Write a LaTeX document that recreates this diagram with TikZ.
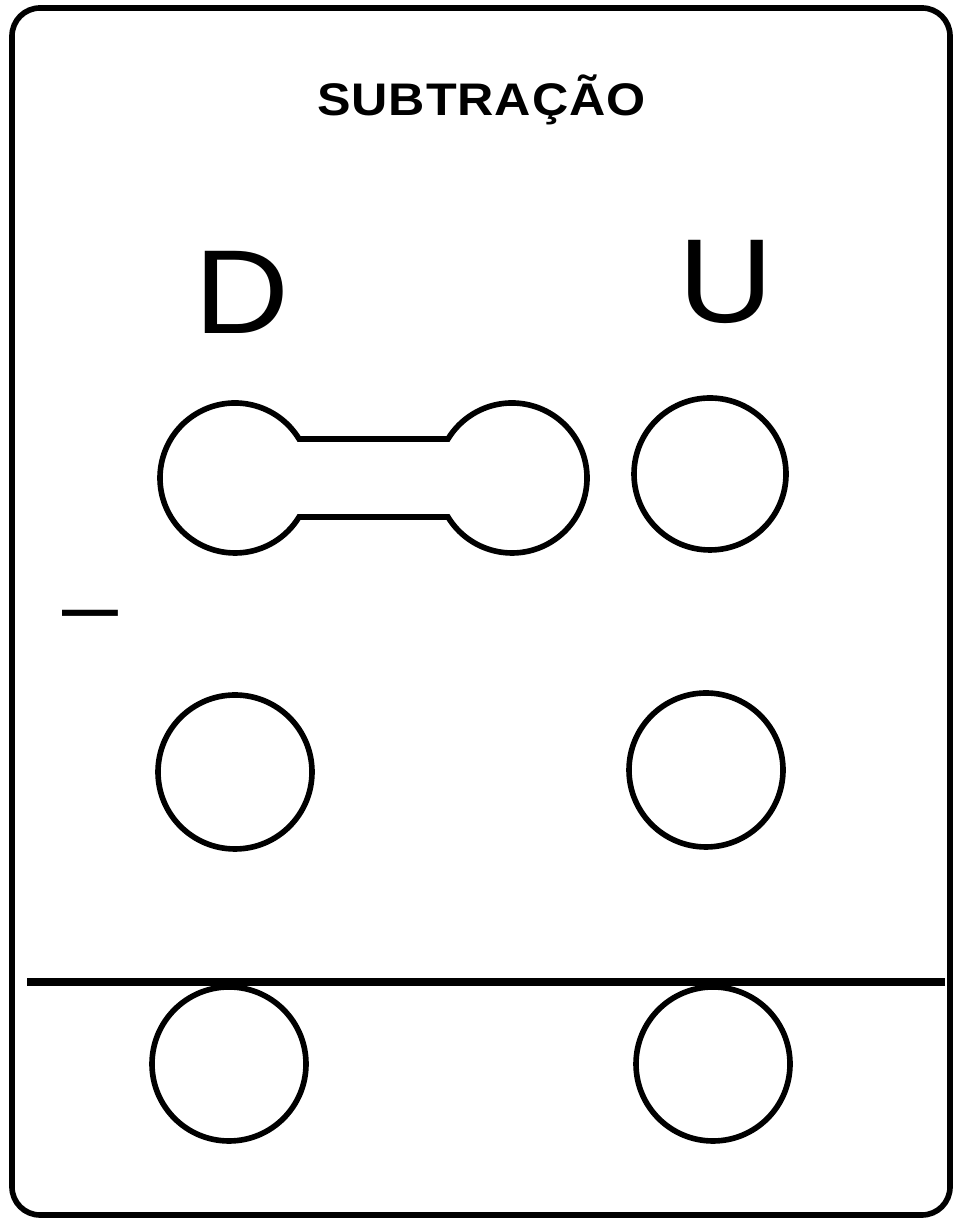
\documentclass[tikz,border=0pt]{standalone}
\usepackage{fontspec}
\setmainfont{Liberation Sans}[FakeStretch=1.1]

\begin{document}
\begin{tikzpicture}[line width=1.6pt, hole/.style={draw, circle, inner sep=0pt, minimum size=1.54cm}]
\useasboundingbox (0,0) rectangle (9.57,12.19);
\draw[rounded corners=0.28cm] (0.12,0.04) rectangle (9.50,12.11);
\node (title) at (4.82,11.19) {\fontsize{13}{15}\selectfont\addfontfeatures{LetterSpace=2}\textbf{SUBTRAÇÃO}};
\node (dlabel) at (2.42,9.27) {\fontsize{34}{40}\selectfont D};
\node (ulabel) at (7.26,9.37) {\fontsize{34}{40}\selectfont U};
\node[anchor=base] (minus) at (0.90,5.82) {\fontsize{26}{30}\selectfont –};
% first row
\coordinate (dl) at (2.35,7.41);
\coordinate (dr) at (5.12,7.41);
\draw ([shift={(31.3:0.75)}]dl) arc[start angle=31.3, end angle=328.7, radius=0.75]
  -- ([shift={(211.3:0.75)}]dr) arc[start angle=-148.7, end angle=148.7, radius=0.75] -- cycle;
\node[hole, minimum size=1.52cm] (u1) at (7.10,7.45) {};
% second row
\node[hole] (d2) at (2.35,4.47) {};
\node[hole] (u2) at (7.06,4.49) {};
% result
\coordinate (bl) at (0.27,2.37);
\coordinate (br) at (9.45,2.37);
\draw[line width=2pt] (bl) -- (br);
\node[hole] (d3) at (2.29,1.55) {};
\node[hole] (u3) at (7.13,1.55) {};
\end{tikzpicture}
\end{document}
